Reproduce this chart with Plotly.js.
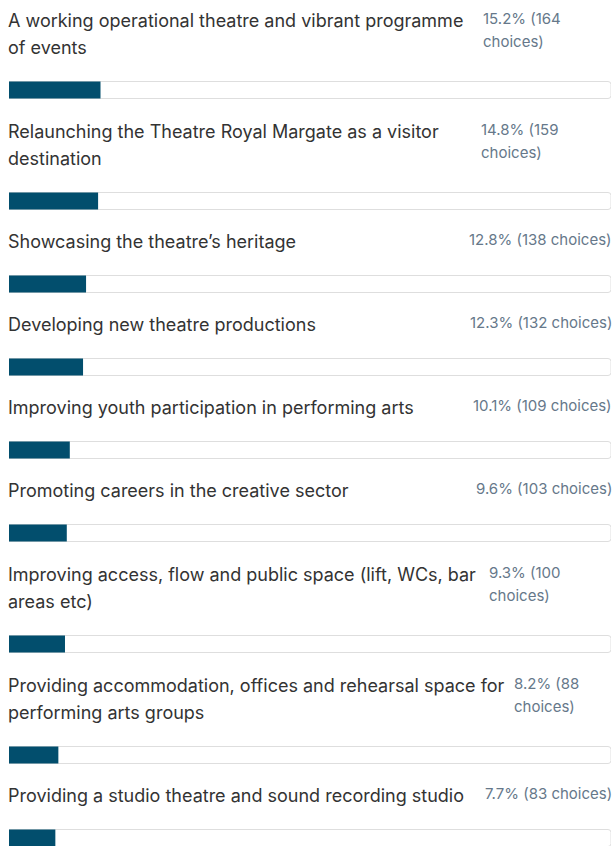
<!DOCTYPE html>
<html>
<head>
<meta charset="utf-8">
<script src="https://cdn.plot.ly/plotly-3.0.1.min.js"></script>
<style>
  html, body { margin: 0; padding: 0; background: #ffffff; }
  #chart { width: 614px; height: 846px; }
</style>
</head>
<body>
<div id="chart"></div>
<script>
// ---- data ----
const labels = [
  "A working operational theatre and vibrant programme<br>of events",
  "Relaunching the Theatre Royal Margate as a visitor<br>destination",
  "Showcasing the theatre’s heritage",
  "Developing new theatre productions",
  "Improving youth participation in performing arts",
  "Promoting careers in the creative sector",
  "Improving access, flow and public space (lift, WCs, bar<br>areas etc)",
  "Providing accommodation, offices and rehearsal space for<br>performing arts groups",
  "Providing a studio theatre and sound recording studio"
];
const percents = [15.2, 14.8, 12.8, 12.3, 10.1, 9.6, 9.3, 8.2, 7.7];
const choices = [164, 159, 138, 132, 109, 103, 100, 88, 83];

// ---- layout helpers (pixels) ----
const W = 614, H = 846;
const ML = 9, MR = 3;
const plotW = W - ML - MR;
const pxToX = px => (px - ML) / plotW * 100;
// left x (px) for wrapped percentage labels, null = right aligned single line
const pctLeftPx = [484, 482, null, null, null, null, 490, 515, null];

const nLines = labels.map(l => l.split("<br>").length);
const barY = [];
labels.forEach((l, i) => {
  if (i === 0) barY.push(90);
  else barY.push(barY[i - 1] + 83 + 28 * (nLines[i] - 1));
});

const labelFont = { family: "Inter, sans-serif", size: 18, color: "#333333" };
const pctFont = { family: "Inter, sans-serif", size: 15, color: "#66788a" };

const annotations = [];
labels.forEach((l, i) => {
  const lines = l.split("<br>");
  const firstY = barY[i] - 43 - 27 * (lines.length - 1);
  lines.forEach((t, k) => {
    annotations.push({
      x: 0, xref: "x", y: firstY + 27 * k, yref: "y", xshift: -3,
      text: t, showarrow: false, xanchor: "left", yanchor: "middle",
      font: labelFont
    });
  });
  const pctText = percents[i].toFixed(1) + "% (" + choices[i] + " choices)";
  if (pctLeftPx[i] === null) {
    annotations.push({
      x: 100, xref: "x", y: firstY - 2, yref: "y", xshift: 3,
      text: pctText, showarrow: false, xanchor: "right", yanchor: "middle",
      font: pctFont
    });
  } else {
    const parts = [percents[i].toFixed(1) + "% (" + choices[i], "choices)"];
    parts.forEach((t, k) => {
      annotations.push({
        x: pxToX(pctLeftPx[i]), xref: "x", y: firstY - 2 + 23 * k, yref: "y", xshift: -3,
        text: t, showarrow: false, xanchor: "left", yanchor: "middle",
        font: pctFont
      });
    });
  }
});

const track = {
  type: "bar", orientation: "h",
  x: percents.map(() => 100), y: barY, width: 17,
  marker: { color: "#ffffff", line: { color: "#dedede", width: 1 } },
  hoverinfo: "skip", showlegend: false
};
const fill = {
  type: "bar", orientation: "h",
  x: percents, y: barY, width: 17,
  marker: { color: "#024e6d", line: { width: 0 } },
  showlegend: false
};

Plotly.newPlot("chart", [track, fill], {
  width: W, height: H,
  margin: { l: ML, r: MR, t: 0, b: 0, pad: 0 },
  paper_bgcolor: "#ffffff", plot_bgcolor: "#ffffff",
  barmode: "overlay", barcornerradius: 3,
  xaxis: { range: [0, 100], visible: false, fixedrange: true },
  yaxis: { range: [H, 0], visible: false, fixedrange: true },
  annotations: annotations
}, { displayModeBar: false, staticPlot: true });
</script>
</body>
</html>
